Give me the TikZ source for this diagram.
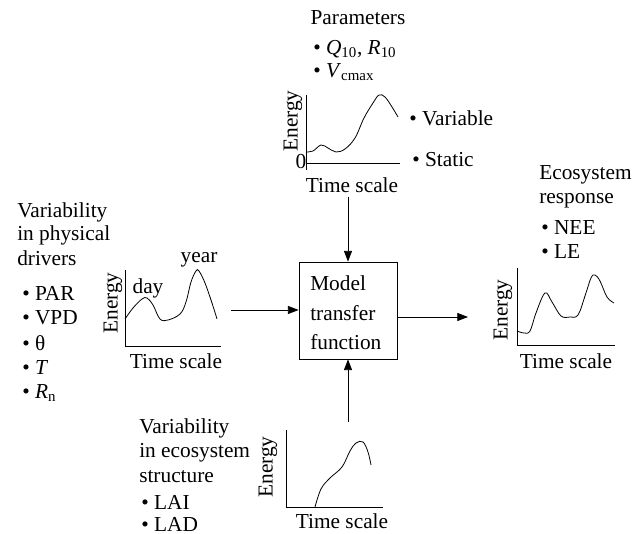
\documentclass[tikz,border=0pt]{standalone}
\usepackage{fontspec}
\setmainfont{Liberation Serif}
\usetikzlibrary{arrows.meta}
\begin{document}
\begin{tikzpicture}[x=0.75pt,y=-0.75pt,
  txt/.style={font=\fontsize{16}{19}\selectfont, inner sep=0pt},
  lft/.style={txt, anchor=west},
  axis/.style={line width=0.6pt},
  curve/.style={line width=0.6pt},
  en/.style={txt, rotate=90},
  conn/.style={line width=0.6pt, -{Triangle[length=8pt,width=6pt]}}]
\useasboundingbox (0,0) rectangle (637,534);

% ---- top: parameters
\node[txt] (par) at (358,18) {Parameters};
\node[lft] (q10) at (313,49) {\textbullet\ \textit{Q}\textsubscript{10}, \textit{R}\textsubscript{10}};
\node[lft] (vc) at (313,72) {\textbullet\ \textit{V}\textsubscript{cmax}};
\draw[axis] (306,95) -- (306,170);
\draw[axis] (306,163) -- (400,163);
\node[txt] (zero) at (301,162) {0};
\draw[curve] plot[smooth, tension=0.6] coordinates {(306,152) (313,151) (321,145) (328,148) (336,152) (345,149) (355,138) (364,118) (373,103) (379,95) (385,97) (392,107) (398,117)};
\node[en] (ten) at (293,121) {Energy};
\node[txt] (tts) at (352,185) {Time scale};
\node[lft] (var) at (409,118) {\textbullet\ Variable};
\node[lft] (sta) at (412,160) {\textbullet\ Static};
\coordinate (tarr) at (348,197);

% ---- box
\node[draw, line width=0.6pt, minimum width=73.5pt, minimum height=72.75pt, inner sep=0pt] (box) at (348,310.5) {};
\node[txt, align=left, anchor=west, font=\fontsize{16}{22}\selectfont] (mtf) at (310,313) {Model\\transfer\\function};

% ---- left: physical drivers
\node[lft] (v1) at (17,212) {Variability};
\node[lft] (v2) at (17,235) {in physical};
\node[lft] (v3) at (17,258) {drivers};
\node[lft] (b1) at (22,293) {\textbullet\ PAR};
\node[lft] (b2) at (22,318) {\textbullet\ VPD};
\node[lft] (b3) at (22,343) {\textbullet\ θ};
\node[lft] (b4) at (22,368) {\textbullet\ \textit{T}};
\node[lft] (b5) at (22,393) {\textbullet\ \textit{R}\textsubscript{n}};
\draw[axis] (125,270) -- (125,346) -- (221,346);
\draw[curve] plot[smooth, tension=0.6] coordinates {(125,319) (133,308) (142,299) (147,298) (153,305) (160,319) (168,320) (180,314) (186,302) (191,282) (196,271) (199,271) (205,283) (212,303) (217,319)};
\node[en] (len) at (113,303) {Energy};
\node[txt] (lday) at (148,288) {day};
\node[txt] (lyear) at (199,260) {year};
\node[txt] (lts) at (176,361) {Time scale};
\coordinate (larr) at (231,310);

% ---- right: ecosystem response
\node[lft] (e1) at (539,175) {Ecosystem};
\node[lft] (e2) at (539,201) {response};
\node[lft] (e3) at (541,228) {\textbullet\ NEE};
\node[lft] (e4) at (541,252) {\textbullet\ LE};
\draw[axis] (517,268) -- (517,345) -- (615,345);
\draw[curve] plot[smooth, tension=0.6] coordinates {(517,331) (524,333) (530,331) (536,313) (545,293) (552,302) (561,316) (570,317) (578,315) (585,296) (591,278) (595,275) (600,281) (607,297) (614,303)};
\node[en] (ren) at (503,310) {Energy};
\node[txt] (rts) at (566,361) {Time scale};
\coordinate (rarr) at (468,317);

% ---- bottom: ecosystem structure
\node[lft] (s1) at (139,428) {Variability};
\node[lft] (s2) at (139,453) {in ecosystem};
\node[lft] (s3) at (139,477) {structure};
\node[lft] (s4) at (141,502) {\textbullet\ LAI};
\node[lft] (s5) at (141,524) {\textbullet\ LAD};
\draw[axis] (286,430) -- (286,507) -- (383,507);
\draw[curve] plot[smooth, tension=0.6] coordinates {(315,507) (321,489) (330,478) (342,467) (350,451) (356,443) (363,442) (368,452) (371,465)};
\node[en] (ben) at (268,467) {Energy};
\node[txt] (bts) at (342,521) {Time scale};
\coordinate (barr) at (348,422);

% ---- connectors
\draw[conn] (tarr) -- (box.north);
\draw[conn] (barr) -- (box.south);
\draw[conn] (larr) -- (larr -| box.west);
\draw[conn] (rarr -| box.east) -- (rarr);
\end{tikzpicture}
\end{document}
